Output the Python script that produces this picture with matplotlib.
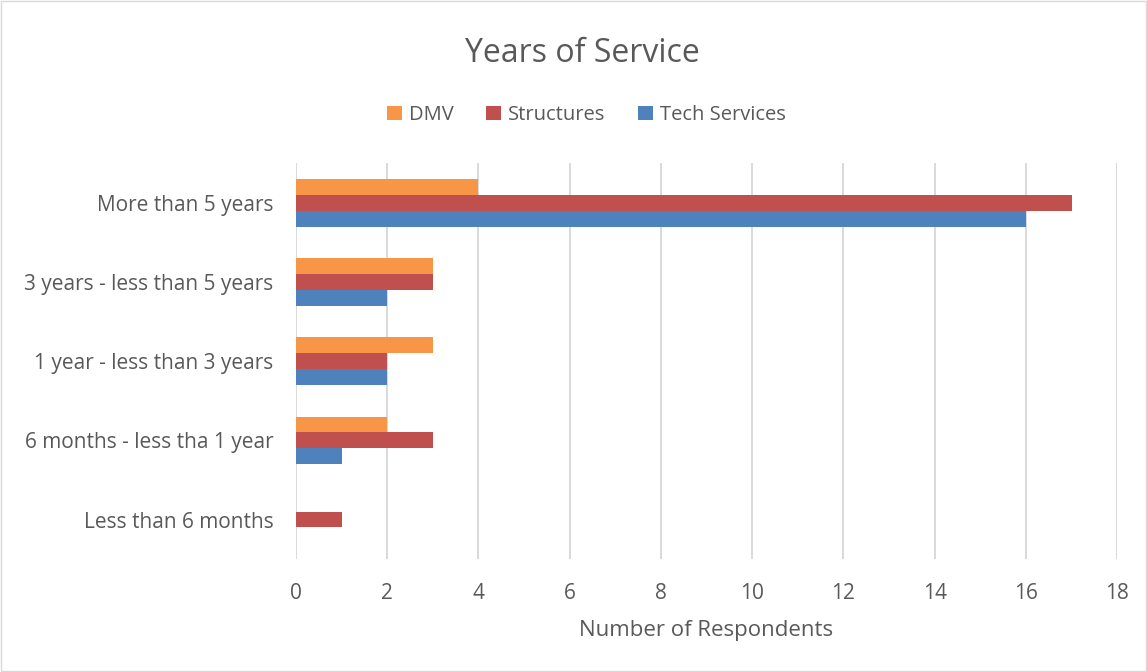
import matplotlib
matplotlib.use("Agg")
import matplotlib.pyplot as plt
import numpy as np

# data (bottom to top as drawn)
categories = ["Less than 6 months", "6 months - less tha 1 year",
              "1 year - less than 3 years", "3 years - less than 5 years",
              "More than 5 years"]
dmv = [0, 2, 3, 3, 4]
structures = [1, 3, 2, 3, 17]
tech_services = [0, 1, 2, 2, 16]
x_ticks = [0, 2, 4, 6, 8, 10, 12, 14, 16, 18]

ORANGE = "#F79646"
RED = "#C0504D"
BLUE = "#4F81BD"
TEXT = "#595959"
GRID = "#D9D9D9"

plt.rcParams["font.family"] = ["Open Sans", "DejaVu Sans"]

fig = plt.figure(figsize=(11.47, 6.72), dpi=100)
ax = fig.add_axes([0.258, 0.168, 0.716, 0.589])

y = np.arange(len(categories))
h = 0.2
ax.barh(y + h, dmv, height=h, color=ORANGE, label="DMV")
ax.barh(y, structures, height=h, color=RED, label="Structures")
ax.barh(y - h, tech_services, height=h, color=BLUE, label="Tech Services")

ax.set_xlim(0, 18)
ax.set_ylim(-0.5, len(categories) - 0.5)
ax.set_xticks(x_ticks)
ax.set_yticks(y)
ax.set_yticklabels(categories)
ax.tick_params(axis="both", length=0, labelsize=15, colors=TEXT)
ax.tick_params(axis="x", pad=17)
ax.tick_params(axis="y", pad=16)
ax.grid(True, axis="x", color=GRID, linewidth=1.4)
ax.set_axisbelow(True)
for s in ax.spines.values():
    s.set_visible(False)

ax.set_xlabel("Number of Respondents", fontsize=16, color=TEXT, labelpad=12)
fig.text(0.508, 0.921, "Years of Service", ha="center", va="center",
         fontsize=23, color=TEXT)
fig.legend(loc="center", bbox_to_anchor=(0.511, 0.829), ncol=3, frameon=False,
           fontsize=14.5, labelcolor=TEXT, handlelength=0.75, handleheight=0.75,
           handletextpad=0.35, columnspacing=1.6)

fig.patches.append(plt.Rectangle((0.001, 0.001), 0.998, 0.998, transform=fig.transFigure,
                                 fill=False, edgecolor=GRID, linewidth=1))

fig.savefig("out.png", dpi=100, facecolor="white")
